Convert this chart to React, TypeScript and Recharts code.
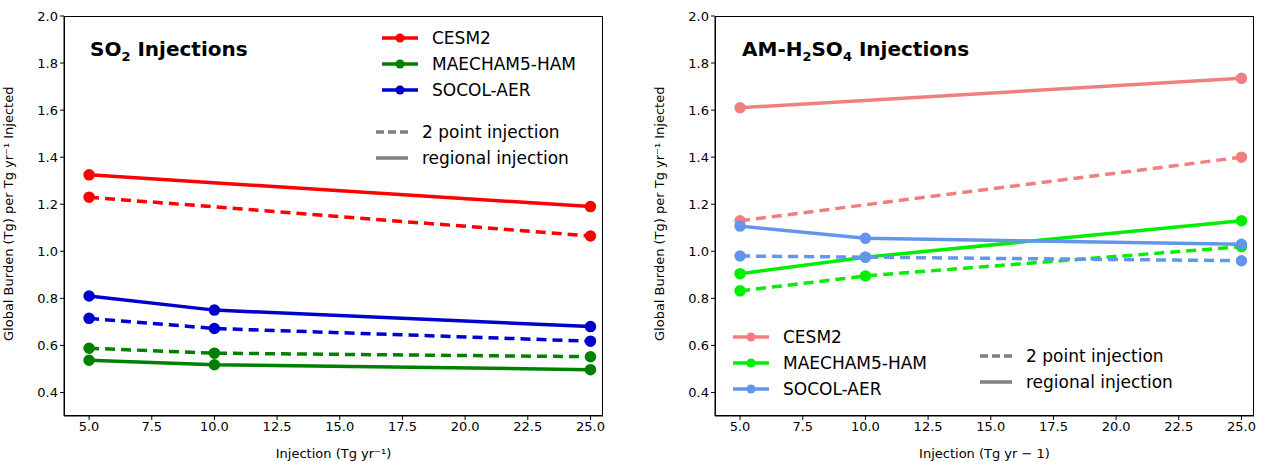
import { LineChart, Line, XAxis, YAxis } from "recharts";

const xs = [5, 10, 25];
const xTicks = [5, 7.5, 10, 12.5, 15, 17.5, 20, 22.5, 25];
const yTicks = [0.4, 0.6, 0.8, 1.0, 1.2, 1.4, 1.6, 1.8, 2.0];

// SO2 injections
const so2CesmReg = [1.325, null, 1.19];
const so2CesmPt = [1.23, null, 1.065];
const so2MaeReg = [0.537, 0.518, 0.497];
const so2MaePt = [0.588, 0.567, 0.552];
const so2SocReg = [0.81, 0.75, 0.68];
const so2SocPt = [0.715, 0.672, 0.618];

// AM-H2SO4 injections
const amCesmReg = [1.61, null, 1.735];
const amCesmPt = [1.13, null, 1.4];
const amMaeReg = [0.905, 0.975, 1.13];
const amMaePt = [0.832, 0.895, 1.02];
const amSocReg = [1.107, 1.055, 1.03];
const amSocPt = [0.98, 0.975, 0.96];

const build = (cols: Record<string, (number | null)[]>) =>
  xs.map((x, i) => {
    const row: any = { x };
    Object.keys(cols).forEach((k) => (row[k] = cols[k][i]));
    return row;
  });

const font = "DejaVu Sans, sans-serif";

type S = { key: string; color: string; dash?: boolean };

const Panel = ({ data, series, left, xLabel }: { data: any[]; series: S[]; left: number; xLabel: string }) => (
  <div style={{ position: "absolute", left, top: 0 }}>
    <LineChart width={620} height={461} data={data} margin={{ top: 16, right: 17, left: 14, bottom: 15 }}>
      <XAxis dataKey="x" type="number" domain={[4, 25.5]} ticks={xTicks} tickFormatter={(v) => v.toFixed(1)}
        tick={{ fill: "#000", fontSize: 13, fontFamily: font }} stroke="#000" tickSize={4} height={30}
        label={{ value: xLabel, position: "insideBottom", offset: -12, fill: "#000", fontSize: 13, fontFamily: font }} />
      <YAxis type="number" domain={[0.3, 2.0]} ticks={yTicks} tickFormatter={(v) => v.toFixed(1)} width={50}
        tick={{ fill: "#000", fontSize: 13, fontFamily: font }} stroke="#000" tickSize={4}
        label={{ value: "Global Burden (Tg) per Tg yr\u207B\u00B9 Injected", angle: -90, position: "insideLeft", offset: -6, dy: 125, fill: "#000", fontSize: 13, fontFamily: font }} />
      {series.map((s) => (
        <Line key={s.key} dataKey={s.key} stroke={s.color} strokeWidth={3.5} strokeDasharray={s.dash ? "10 6" : undefined}
          dot={{ r: 4, fill: s.color, stroke: s.color, strokeDasharray: "" }} connectNulls isAnimationActive={false} />
      ))}
    </LineChart>
    <div style={{ position: "absolute", left: 64, top: 16, width: 539, height: 400, border: "1px solid #000", boxSizing: "border-box", pointerEvents: "none" }} />
  </div>
);

const LegItem = ({ color, label, dot = true, w = 36 }: { color: string; label: string; dot?: boolean; w?: number }) => (
  <div style={{ display: "flex", alignItems: "center", height: 26, fontFamily: font, fontSize: 17 }}>
    <svg width={w} height={12} style={{ marginRight: 12 }}>
      <line x1={2} y1={6} x2={w - 2} y2={6} stroke={color} strokeWidth={3.5}
        strokeDasharray={dot ? undefined : label.startsWith("2") ? "8 4" : undefined} />
      {dot && <circle cx={w / 2} cy={6} r={4.5} fill={color} />}
    </svg>
    {label}
  </div>
);

const Legend = ({ left, top, colors }: { left: number; top: number; colors: string[] }) => (
  <div style={{ position: "absolute", left, top }}>
    <LegItem color={colors[0]} label="CESM2" w={40} />
    <LegItem color={colors[1]} label="MAECHAM5-HAM" w={40} />
    <LegItem color={colors[2]} label="SOCOL-AER" w={40} />
  </div>
);

const Style = ({ left, top }: { left: number; top: number }) => (
  <div style={{ position: "absolute", left, top, color: "#000" }}>
    <LegItem color="#808080" label="2 point injection" dot={false} />
    <LegItem color="#808080" label="regional injection" dot={false} />
  </div>
);

const App = () => {
  const d1 = build({ so2CesmReg, so2CesmPt, so2MaeReg, so2MaePt, so2SocReg, so2SocPt });
  const d2 = build({ amCesmReg, amCesmPt, amMaeReg, amMaePt, amSocReg, amSocPt });
  const c1 = ["#ff0000", "#008000", "#0000cd"];
  const c2 = ["#f08080", "#00ee00", "#6495ed"];
  return (
    <div style={{ position: "absolute", left: 0, top: 0, width: 1265, height: 461, background: "#fff" }}>
      <Panel data={d1} left={0} xLabel={"Injection (Tg yr\u207B\u00B9)"} series={[
        { key: "so2CesmReg", color: c1[0] }, { key: "so2CesmPt", color: c1[0], dash: true },
        { key: "so2MaeReg", color: c1[1] }, { key: "so2MaePt", color: c1[1], dash: true },
        { key: "so2SocReg", color: c1[2] }, { key: "so2SocPt", color: c1[2], dash: true },
      ]} />
      <Panel data={d2} left={651} xLabel={"Injection (Tg yr \u2212 1)"} series={[
        { key: "amCesmReg", color: c2[0] }, { key: "amCesmPt", color: c2[0], dash: true },
        { key: "amMaeReg", color: c2[1] }, { key: "amMaePt", color: c2[1], dash: true },
        { key: "amSocReg", color: c2[2] }, { key: "amSocPt", color: c2[2], dash: true },
      ]} />
      <div style={{ position: "absolute", left: 90, top: 37, fontFamily: font, fontWeight: "bold", fontSize: 20 }}>
        SO<sub style={{ fontSize: 13 }}>2</sub> Injections
      </div>
      <div style={{ position: "absolute", left: 742, top: 37, fontFamily: font, fontWeight: "bold", fontSize: 20 }}>
        AM-H<sub style={{ fontSize: 13 }}>2</sub>SO<sub style={{ fontSize: 13 }}>4</sub> Injections
      </div>
      <Legend left={380} top={25} colors={c1} />
      <Style left={374} top={119} />
      <Legend left={731} top={324} colors={c2} />
      <Style left={978} top={343} />
    </div>
  );
};

export default App;
